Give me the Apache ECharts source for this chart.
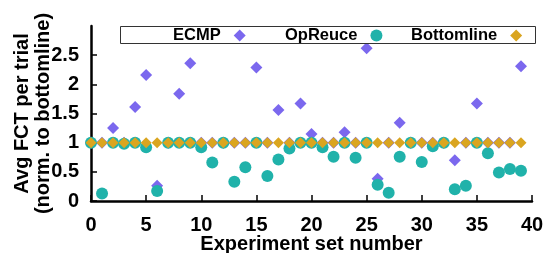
<!DOCTYPE html>
<html>
<head>
<meta charset="utf-8">
<script src="https://cdn.jsdelivr.net/npm/echarts@6/dist/echarts.min.js"></script>
<style>
  html, body { margin: 0; padding: 0; background: #fff; }
  #myChart { width: 553px; height: 253px; }
</style>
</head>
<body>
<div id="myChart"></div>
<script>
// experiment set numbers
const experiments = [0, 1, 2, 3, 4, 5, 6, 7, 8, 9, 10, 11, 12, 13, 14, 15, 16, 17, 18, 19,
  20, 21, 22, 23, 24, 25, 26, 27, 28, 29, 30, 31, 32, 33, 34, 35, 36, 37, 38, 39];

// avg FCT, normalised to bottomline
const ecmp = [1.0, 1.0, 1.25, 1.0, 1.61, 2.16, 0.26, 1.0, 1.84, 2.36,
  1.0, 1.0, 1.0, 1.0, 1.0, 2.29, 1.0, 1.56, 1.0, 1.67,
  1.15, 1.0, 1.0, 1.18, 1.0, 2.62, 0.38, 1.0, 1.34, 1.0,
  1.0, 1.0, 1.0, 0.70, 1.0, 1.67, 1.0, 1.0, 1.0, 2.31];
const opReuce = [1.0, 0.13, 1.0, 0.98, 1.0, 0.92, 0.17, 1.0, 1.0, 1.0,
  0.92, 0.66, 1.0, 0.33, 0.58, 1.0, 0.43, 0.71, 0.90, 1.0,
  1.0, 0.92, 0.76, 1.0, 0.74, 1.0, 0.28, 0.14, 0.76, 1.0,
  0.67, 0.94, 1.0, 0.20, 0.26, 1.0, 0.82, 0.49, 0.55, 0.52];
const bottomline = [1, 1, 1, 1, 1, 1, 1, 1, 1, 1, 1, 1, 1, 1, 1, 1, 1, 1, 1, 1,
  1, 1, 1, 1, 1, 1, 1, 1, 1, 1, 1, 1, 1, 1, 1, 1, 1, 1, 1, 1];

const xTicks = [0, 5, 10, 15, 20, 25, 30, 35, 40];
const yTicks = [0, 0.5, 1, 1.5, 2, 2.5];

const FONT = "'Liberation Sans', Arial, sans-serif";

function pairs(vals) {
  return experiments.map(function (x, i) { return [x, vals[i]]; });
}

function legendAt(name, left) {
  return {
    data: [name],
    left: left,
    top: 27,
    padding: 0,
    align: "right",
    itemWidth: 12,
    itemHeight: 12,
    selectedMode: false,
    textStyle: { fontFamily: FONT, fontWeight: "bold", fontSize: 16.5, color: "#000", padding: [0, 8, 0, 0] },
  };
}

let myChart = echarts.init(document.getElementById("myChart"));

let option = {
  animation: false,
  backgroundColor: "#fff",
  graphic: [
    {
      type: "rect",
      left: 120,
      top: 26,
      shape: { width: 415, height: 17 },
      style: { fill: "#fff", stroke: "#333", lineWidth: 1 },
      z: 3,
    },
  ],
  legend: [
    legendAt("ECMP", 173),
    legendAt("OpReuce", 285),
    legendAt("Bottomline", 411),
  ],
  grid: { left: 91, right: 21, top: 26, bottom: 52, outerBoundsMode: "none", containLabel: false },
  xAxis: {
    type: "value",
    min: 0,
    max: 40,
    interval: 5,
    name: "Experiment set number",
    nameLocation: "middle",
    nameGap: 33,
    nameMoveOverlap: false,
    nameTextStyle: { fontFamily: FONT, fontWeight: "bold", fontSize: 20, color: "#000" },
    axisLine: { lineStyle: { color: "#000", width: 2.5 } },
    axisTick: { inside: true, length: 6, lineStyle: { color: "#000", width: 1.5 }, customValues: xTicks },
    axisLabel: { fontFamily: FONT, fontWeight: "bold", fontSize: 20, color: "#000", margin: 14, customValues: xTicks },
    splitLine: { show: false },
  },
  yAxis: {
    type: "value",
    min: 0,
    max: 3,
    interval: 0.5,
    name: "Avg FCT per trial\n(norm. to bottomline)",
    nameLocation: "middle",
    nameRotate: 90,
    nameGap: 37,
    nameMoveOverlap: false,
    nameTextStyle: { fontFamily: FONT, fontWeight: "bold", fontSize: 20, color: "#000", lineHeight: 21 },
    axisLine: { show: true, lineStyle: { color: "#000", width: 2.5 } },
    axisTick: { show: true, inside: true, length: 6, lineStyle: { color: "#000", width: 1.5 }, customValues: yTicks },
    axisLabel: { fontFamily: FONT, fontWeight: "bold", fontSize: 20, color: "#000", margin: 12, customValues: yTicks },
    splitLine: { show: false },
  },
  series: [
    {
      name: "ECMP",
      type: "scatter",
      symbol: "diamond",
      symbolSize: 12,
      clip: false,
      itemStyle: { color: "#7b68ee", opacity: 1 },
      data: pairs(ecmp),
      z: 2,
    },
    {
      name: "OpReuce",
      type: "scatter",
      symbol: "circle",
      symbolSize: 12,
      clip: false,
      itemStyle: { color: "#20b2aa", opacity: 1 },
      data: pairs(opReuce),
      z: 3,
    },
    {
      name: "Bottomline",
      type: "scatter",
      symbol: "diamond",
      symbolSize: 11,
      clip: false,
      itemStyle: { color: "#daa520", opacity: 1 },
      data: pairs(bottomline),
      z: 4,
    },
  ],
};

myChart.setOption(option);
</script>
</body>
</html>
